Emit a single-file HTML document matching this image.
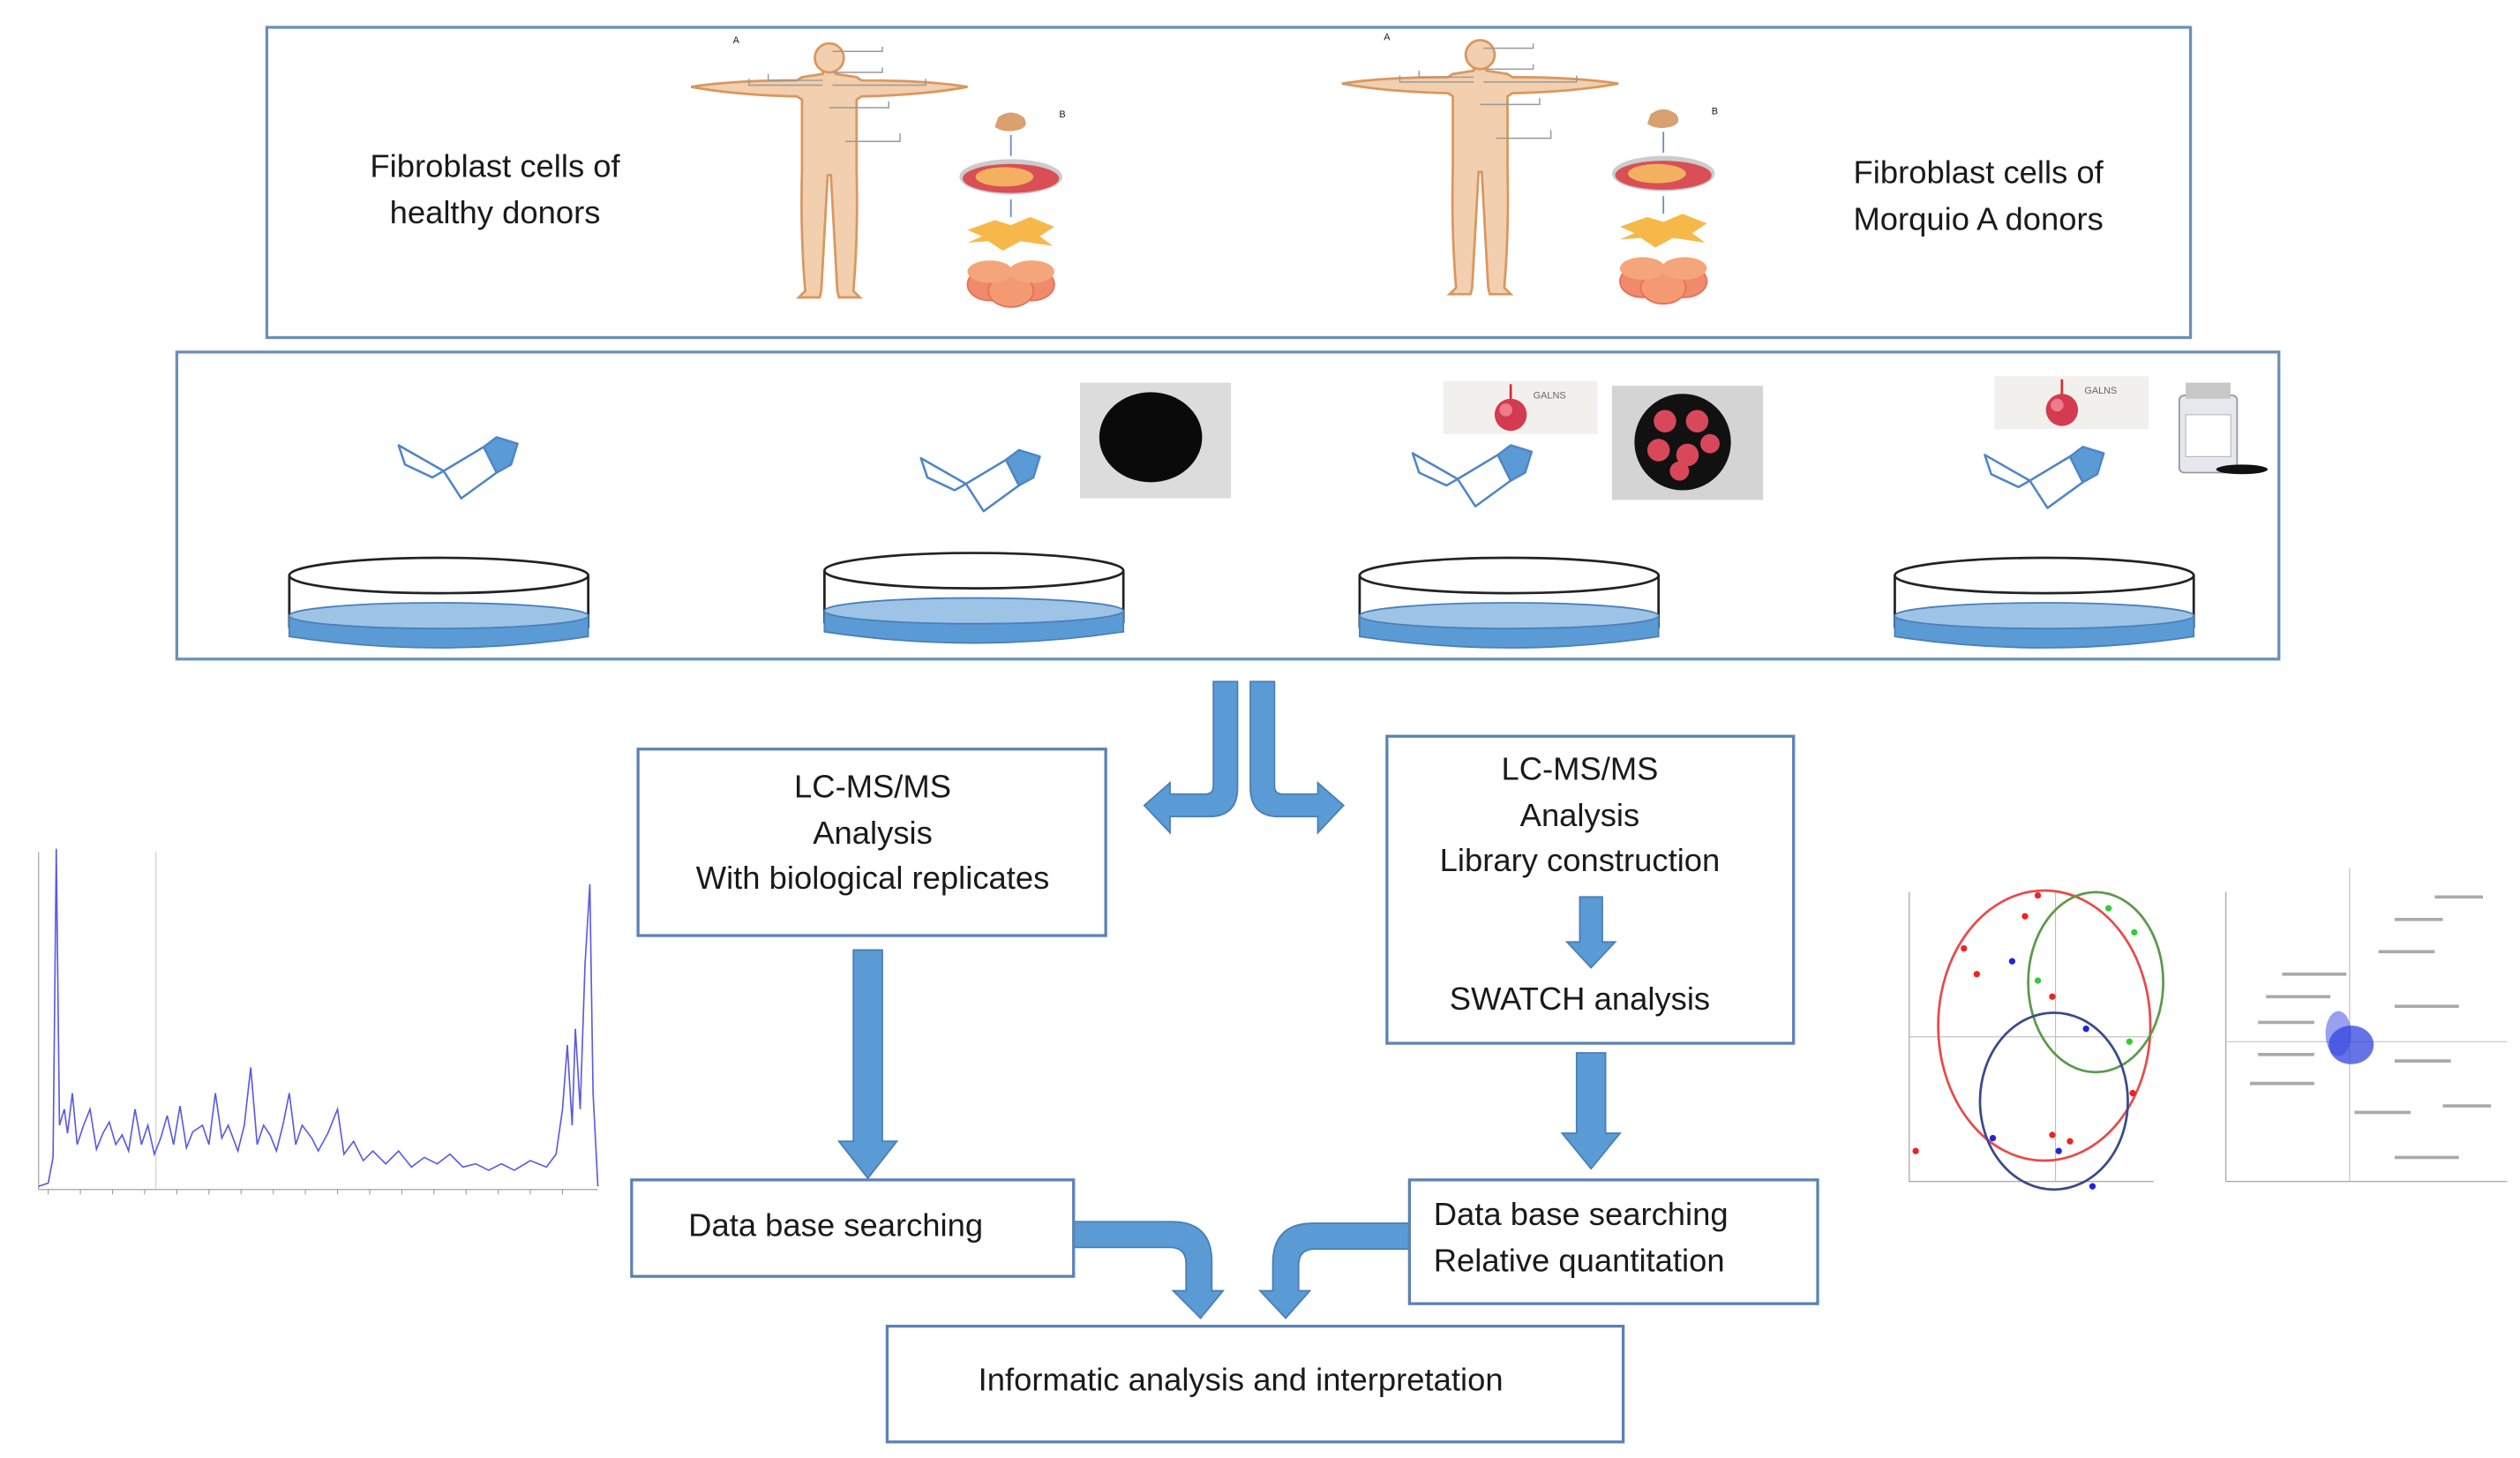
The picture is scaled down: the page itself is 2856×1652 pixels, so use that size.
<!DOCTYPE html>
<html><head><meta charset="utf-8"><style>
html,body{margin:0;padding:0;background:#fff}
svg{display:block}
text{font-family:"Liberation Sans",sans-serif;fill:#1a1a1a}
</style></head><body>
<svg width="2856" height="1652" viewBox="0 0 1568 907" xmlns="http://www.w3.org/2000/svg">
<defs>
<g id="person">
  <path d="M-86,18 Q-60,14 -20,14 L-17,12 L-4,10 L-4,7 L4,7 L4,10 L17,12 L20,14 Q60,14 86,18 Q60,23 20,24 L17,26 L17,70 Q18,110 15,145 L19,149 L6,149 L5,145 Q3,110 1,73 L-1,73 Q-3,110 -5,145 L-6,149 L-19,149 L-15,145 Q-18,110 -17,70 L-17,26 L-20,24 Q-60,23 -86,18 Z" fill="#f2cfae" stroke="#d9975f" stroke-width="1.5"/>
  <circle cx="0" cy="0" r="9" fill="#f2cfae" stroke="#d9975f" stroke-width="1.5"/>
  <g stroke="#999" stroke-width="0.8" fill="none">
    <path d="M2,-4 L33,-4 L33,-7"/><path d="M2,9 L33,9 L33,6"/><path d="M-4,14 L-38,14 L-38,10"/><path d="M-4,17 L-50,17 L-50,13"/><path d="M2,17 L60,17 L60,13"/><path d="M0,31 L37,31 L37,27"/><path d="M10,52 L44,52 L44,47"/>
  </g>
  <text x="-60" y="-9" font-size="6">A</text>
</g>
<g id="cells">
  <path d="M-8,-4 Q0,-10 8,-4 Q12,2 4,4 Q-4,6 -10,2 Z" fill="#d9a070"/>
  <line x1="0" y1="7" x2="0" y2="20" stroke="#6a8fc8" stroke-width="1"/>
  <ellipse cx="0" cy="33" rx="32" ry="11" fill="#ccc"/>
  <ellipse cx="0" cy="34" rx="30" ry="9" fill="#d94f55"/>
  <ellipse cx="-4" cy="33" rx="18" ry="6" fill="#f2b060"/>
  <line x1="0" y1="47" x2="0" y2="58" stroke="#6a8fc8" stroke-width="1"/>
  <path d="M-27,66 L-10,60 L0,63 L12,58 L27,64 L18,70 L26,76 L6,73 L-5,79 L-14,73 L-27,74 L-18,70 Z" fill="#f7b84a"/>
  <ellipse cx="-13" cy="100" rx="14" ry="10" fill="#f08a6a" stroke="#e8705a"/>
  <ellipse cx="13" cy="100" rx="14" ry="10" fill="#f08a6a" stroke="#e8705a"/>
  <ellipse cx="0" cy="104" rx="14" ry="10" fill="#f39a72" stroke="#e8705a"/>
  <ellipse cx="-13" cy="92" rx="14" ry="7" fill="#f4a67a"/>
  <ellipse cx="13" cy="92" rx="14" ry="7" fill="#f4a67a"/>
  <text x="30" y="-4" font-size="6">B</text>
</g>
<g id="sugar" fill="none" stroke="#4f86c6" stroke-width="1.4" stroke-linejoin="round">
  <path d="M-39,-12 L-35,0 L-18,8 L-11,4 Z"/>
  <path d="M-11,4 L0,21 L22,5 L14,-11 Z"/>
  <path d="M14,-11 L22,-17 L35,-13 L31,0 L22,5 Z" fill="#5b9bd5"/>
</g>
<g id="dish">
  <path d="M-93,0 L-93,32 Q0,48 93,32 L93,0" fill="#fff" stroke="#222" stroke-width="1.5"/>
  <path d="M-93,25 L-93,38 Q0,52 93,38 L93,25 Z" fill="#5b9bd5" stroke="#4a80b8"/>
  <ellipse cx="0" cy="25" rx="93" ry="8" fill="#9dc3e6" stroke="#4a80b8"/>
  <ellipse cx="0" cy="0" rx="93" ry="11" fill="#fff" stroke="#222" stroke-width="1.5"/>
</g>
<g id="galns">
  <rect x="0" y="0" width="96" height="33" fill="#f1f0ec"/>
  <line x1="42" y1="2" x2="42" y2="14" stroke="#c33" stroke-width="1.5"/>
  <circle cx="42" cy="21" r="10" fill="#d43a50"/>
  <circle cx="39" cy="18" r="4" fill="#ee7c8a"/>
  <text x="56" y="11" font-size="6" style="fill:#666">GALNS</text>
</g>
</defs>

<rect x="166" y="17" width="1197" height="193" fill="none" stroke="#6b8fba" stroke-width="1.8"/>
<text x="308" y="110" font-size="20" text-anchor="middle">Fibroblast cells of</text>
<text x="308" y="139" font-size="20" text-anchor="middle">healthy donors</text>
<text x="1231" y="114" font-size="20" text-anchor="middle">Fibroblast cells of</text>
<text x="1231" y="143" font-size="20" text-anchor="middle">Morquio A donors</text>
<use href="#person" x="516" y="36"/>
<use href="#person" x="921" y="34"/>
<use href="#cells" x="629" y="77"/>
<use href="#cells" x="1035" y="75"/>

<rect x="110" y="219" width="1308" height="191" fill="none" stroke="#6b8fba" stroke-width="1.8"/>
<use href="#dish" x="273" y="358"/>
<use href="#dish" x="606" y="355"/>
<use href="#dish" x="939" y="358"/>
<use href="#dish" x="1272" y="358"/>
<use href="#sugar" x="287" y="289"/>
<use href="#sugar" x="612" y="297"/>
<use href="#sugar" x="918" y="294"/>
<use href="#sugar" x="1274" y="295"/>
<rect x="672" y="238" width="94" height="72" fill="#dcdcdc"/>
<ellipse cx="716" cy="272" rx="32" ry="28" fill="#0a0a0a"/>
<rect x="1003" y="240" width="94" height="71" fill="#d4d4d4"/>
<circle cx="1047" cy="275" r="30" fill="#111"/>
<g fill="#d9485a"><circle cx="1036" cy="262" r="7"/><circle cx="1056" cy="262" r="7"/><circle cx="1032" cy="280" r="7"/><circle cx="1050" cy="283" r="7"/><circle cx="1064" cy="276" r="6"/><circle cx="1045" cy="293" r="6"/></g>
<use href="#galns" x="898" y="237"/>
<use href="#galns" x="1241" y="234"/>
<rect x="1356" y="246" width="36" height="48" rx="3" fill="#e6e8ee" stroke="#999"/>
<rect x="1360" y="238" width="28" height="10" fill="#c8c8c8"/>
<rect x="1360" y="258" width="28" height="26" fill="#fff" stroke="#aaa" stroke-width="0.5"/>
<ellipse cx="1395" cy="292" rx="16" ry="3" fill="#111"/>

<g fill="#5b9bd5" stroke="#4a7fb5" stroke-width="1">
<path d="M755,424 L770,424 L770,490 Q770,508 752,508 L728,508 L728,518 L712,501 L728,487 L728,494 L750,494 Q755,494 755,489 Z"/>
<path d="M793,424 L778,424 L778,490 Q778,508 796,508 L820,508 L820,518 L836,501 L820,487 L820,494 L798,494 Q793,494 793,489 Z"/>
</g>

<rect x="397" y="466" width="291" height="116" fill="#fff" stroke="#5a82b4" stroke-width="1.8"/>
<text x="543" y="496" font-size="20" text-anchor="middle">LC-MS/MS</text>
<text x="543" y="525" font-size="20" text-anchor="middle">Analysis</text>
<text x="543" y="553" font-size="20" text-anchor="middle">With biological replicates</text>
<rect x="863" y="458" width="253" height="191" fill="#fff" stroke="#5a82b4" stroke-width="1.8"/>
<text x="983" y="485" font-size="20" text-anchor="middle">LC-MS/MS</text>
<text x="983" y="514" font-size="20" text-anchor="middle">Analysis</text>
<text x="983" y="542" font-size="20" text-anchor="middle">Library construction</text>
<text x="983" y="628" font-size="20" text-anchor="middle">SWATCH analysis</text>

<g fill="#5b9bd5" stroke="#4a7fb5" stroke-width="1">
<path d="M983,558 L997,558 L997,586 L1005,586 L990,602 L975,586 L983,586 Z"/>
<path d="M531,591 L549,591 L549,710 L558,710 L540,733 L522,710 L531,710 Z"/>
<path d="M981,655 L999,655 L999,705 L1008,705 L990,727 L972,705 L981,705 Z"/>
<path d="M668,760 L729,760 Q754,760 754,785 L754,803 L761,803 L747,820 L730,803 L738,803 L738,786 Q738,776 728,776 L668,776 Z"/>
<path d="M877,761 L817,761 Q792,761 792,786 L792,803 L784,803 L800,820 L815,803 L808,803 L808,787 Q808,777 818,777 L877,777 Z"/>
</g>

<rect x="393" y="734" width="275" height="60" fill="none" stroke="#5a82b4" stroke-width="1.8"/>
<text x="520" y="769" font-size="20" text-anchor="middle">Data base searching</text>
<rect x="877" y="734" width="254" height="77" fill="none" stroke="#5a82b4" stroke-width="1.8"/>
<text x="892" y="762" font-size="20">Data base searching</text>
<text x="892" y="791" font-size="20">Relative quantitation</text>
<rect x="552" y="825" width="458" height="72" fill="none" stroke="#5a82b4" stroke-width="1.8"/>
<text x="772" y="865" font-size="20" text-anchor="middle">Informatic analysis and interpretation</text>

<g stroke-width="0.6">
<line x1="24" y1="530" x2="24" y2="740" stroke="#999"/>
<line x1="24" y1="740" x2="372" y2="740" stroke="#999"/>
<line x1="97" y1="530" x2="97" y2="740" stroke="#ccc"/>
<polyline fill="none" stroke="#5a5ae6" stroke-width="0.9" points="24,738 30,736 33,720 35,528 37,700 40,690 42,705 45,680 48,712 52,700 56,690 60,715 64,705 68,698 72,712 76,706 80,716 84,690 88,712 92,700 96,718 100,708 104,694 108,712 112,688 116,714 120,704 126,700 130,712 134,680 138,708 142,700 148,716 152,700 156,664 160,712 164,700 168,706 172,716 176,700 180,680 184,712 188,700 194,708 198,716 204,705 210,690 214,718 220,710 226,722 232,716 240,724 248,716 256,726 264,720 272,724 280,718 288,726 296,724 304,728 312,724 320,728 330,722 340,726 346,718 350,690 353,650 356,700 358,640 361,690 364,600 367,550 369,680 372,738"/>
<g stroke="#999"><line x1="30" y1="740" x2="30" y2="743"/><line x1="50" y1="740" x2="50" y2="743"/><line x1="70" y1="740" x2="70" y2="743"/><line x1="90" y1="740" x2="90" y2="743"/><line x1="110" y1="740" x2="110" y2="743"/><line x1="130" y1="740" x2="130" y2="743"/><line x1="150" y1="740" x2="150" y2="743"/><line x1="170" y1="740" x2="170" y2="743"/><line x1="190" y1="740" x2="190" y2="743"/><line x1="210" y1="740" x2="210" y2="743"/><line x1="230" y1="740" x2="230" y2="743"/><line x1="250" y1="740" x2="250" y2="743"/><line x1="270" y1="740" x2="270" y2="743"/><line x1="290" y1="740" x2="290" y2="743"/><line x1="310" y1="740" x2="310" y2="743"/><line x1="330" y1="740" x2="330" y2="743"/><line x1="350" y1="740" x2="350" y2="743"/></g>
</g>

<g stroke-width="0.6">
<line x1="1188" y1="555" x2="1188" y2="735" stroke="#999"/>
<line x1="1188" y1="735" x2="1340" y2="735" stroke="#999"/>
<line x1="1188" y1="645" x2="1340" y2="645" stroke="#bbb"/>
<line x1="1279" y1="555" x2="1279" y2="735" stroke="#bbb"/>
<ellipse cx="1272" cy="638" rx="66" ry="84" fill="none" stroke="#e84a4a" stroke-width="1.5"/>
<ellipse cx="1304" cy="611" rx="42" ry="56" fill="none" stroke="#5a9a4a" stroke-width="1.5"/>
<ellipse cx="1278" cy="685" rx="46" ry="55" fill="none" stroke="#3a4a8a" stroke-width="1.5"/>
<g fill="#e22"><circle cx="1268" cy="557" r="2"/><circle cx="1260" cy="570" r="2"/><circle cx="1222" cy="590" r="2"/><circle cx="1230" cy="606" r="2"/><circle cx="1277" cy="620" r="2"/><circle cx="1277" cy="706" r="2"/><circle cx="1288" cy="710" r="2"/><circle cx="1192" cy="716" r="2"/><circle cx="1327" cy="680" r="2"/></g>
<g fill="#3c3"><circle cx="1312" cy="565" r="2"/><circle cx="1328" cy="580" r="2"/><circle cx="1268" cy="610" r="2"/><circle cx="1325" cy="648" r="2"/></g>
<g fill="#22d"><circle cx="1252" cy="598" r="2"/><circle cx="1298" cy="640" r="2"/><circle cx="1240" cy="708" r="2"/><circle cx="1281" cy="716" r="2"/><circle cx="1302" cy="738" r="2"/></g>
<line x1="1385" y1="555" x2="1385" y2="735" stroke="#999"/>
<line x1="1385" y1="735" x2="1560" y2="735" stroke="#999"/>
<line x1="1385" y1="648" x2="1560" y2="648" stroke="#bbb"/>
<line x1="1462" y1="540" x2="1462" y2="735" stroke="#bbb"/>
<g fill="#3344dd"><ellipse cx="1463" cy="650" rx="14" ry="12" opacity="0.75"/><ellipse cx="1455" cy="643" rx="8" ry="14" opacity="0.5"/></g>
<g stroke="#aaa" stroke-width="2"><line x1="1515" y1="558" x2="1545" y2="558"/><line x1="1490" y1="572" x2="1520" y2="572"/><line x1="1480" y1="592" x2="1515" y2="592"/><line x1="1420" y1="606" x2="1460" y2="606"/><line x1="1410" y1="620" x2="1450" y2="620"/><line x1="1490" y1="626" x2="1530" y2="626"/><line x1="1405" y1="636" x2="1440" y2="636"/><line x1="1405" y1="656" x2="1440" y2="656"/><line x1="1490" y1="660" x2="1525" y2="660"/><line x1="1400" y1="674" x2="1440" y2="674"/><line x1="1465" y1="692" x2="1500" y2="692"/><line x1="1520" y1="688" x2="1550" y2="688"/><line x1="1490" y1="720" x2="1530" y2="720"/></g>
</g>
</svg>
</body></html>
